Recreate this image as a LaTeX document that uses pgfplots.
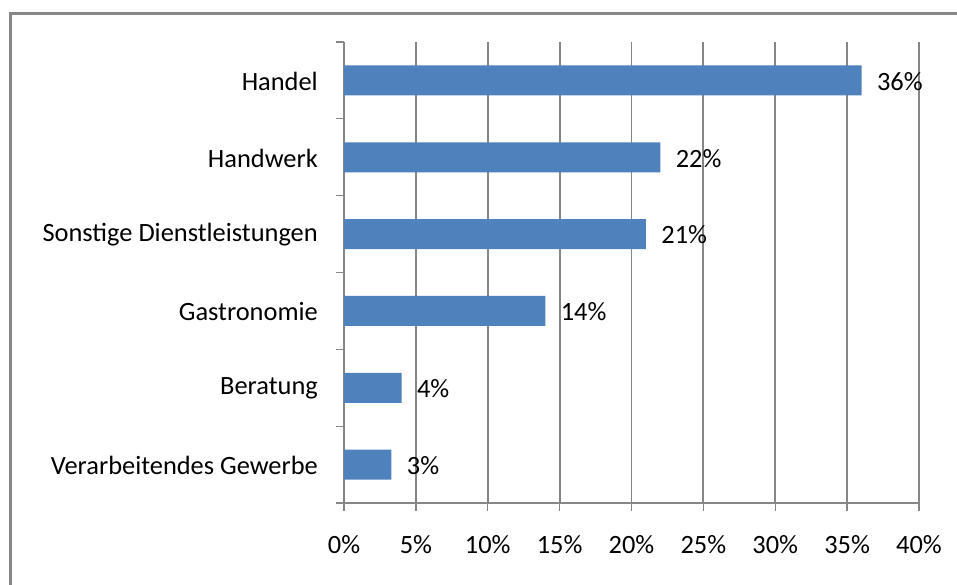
\documentclass[border=0pt]{standalone}
\usepackage{fontspec}
\setmainfont{Carlito}
\usepackage{pgfplots}
\pgfplotsset{compat=1.18}
\definecolor{barblue}{RGB}{79,129,189}
\definecolor{gridgray}{RGB}{134,134,134}
\newcommand{\lbl}{\fontsize{26.4}{31}\selectfont}
\begin{document}
\begin{tikzpicture}[x=1pt,y=1pt]
\useasboundingbox (0,0) rectangle (957,584);
\draw[gridgray, line width=3pt] (10,-10) -- (10,570) -- (970,570);
\begin{axis}[
  at={(344pt,81pt)}, anchor=south west,
  scale only axis, width=575pt, height=461pt,
  xmin=0, xmax=40, ymin=-0.5, ymax=5.5,
  axis x line*=bottom, axis y line*=left,
  axis line style={gridgray, line width=1.3pt},
  xtick={0,5,...,40},
  xticklabels={0\%,5\%,10\%,15\%,20\%,25\%,30\%,35\%,40\%},
  xmajorgrids, grid style={gridgray, line width=1.8pt},
  ytick={-0.5,0.5,...,5.5}, yticklabels={},
  tick align=outside, major tick length=8pt,
  tick style={gridgray, line width=1.3pt},
  extra y ticks={0,1,2,3,4,5},
  extra y tick labels={Verarbeitendes Gewerbe,Beratung,Gastronomie,Sonstige Dienstleistungen,Handwerk,Handel},
  extra y tick style={tick style={draw=none}, yticklabel style={anchor=east, inner sep=0pt, xshift=-18pt, yshift=-1pt}},
  xticklabel style={anchor=center, yshift=-34pt},
  tick label style={font=\lbl, text=black},
  every axis plot/.append style={fill=barblue, draw=none},
]
\addplot[xbar, bar width=30pt, fill=barblue, draw=none,
  point meta=explicit symbolic,
  nodes near coords, nodes near coords style={font=\lbl, anchor=west, xshift=12pt, yshift=-1pt, text=black}]
  coordinates {(3.3,0) [3\%] (4.0,1) [4\%] (14,2) [14\%] (21,3) [21\%] (22,4) [22\%] (36,5) [36\%]};
\end{axis}
\end{tikzpicture}
\end{document}
